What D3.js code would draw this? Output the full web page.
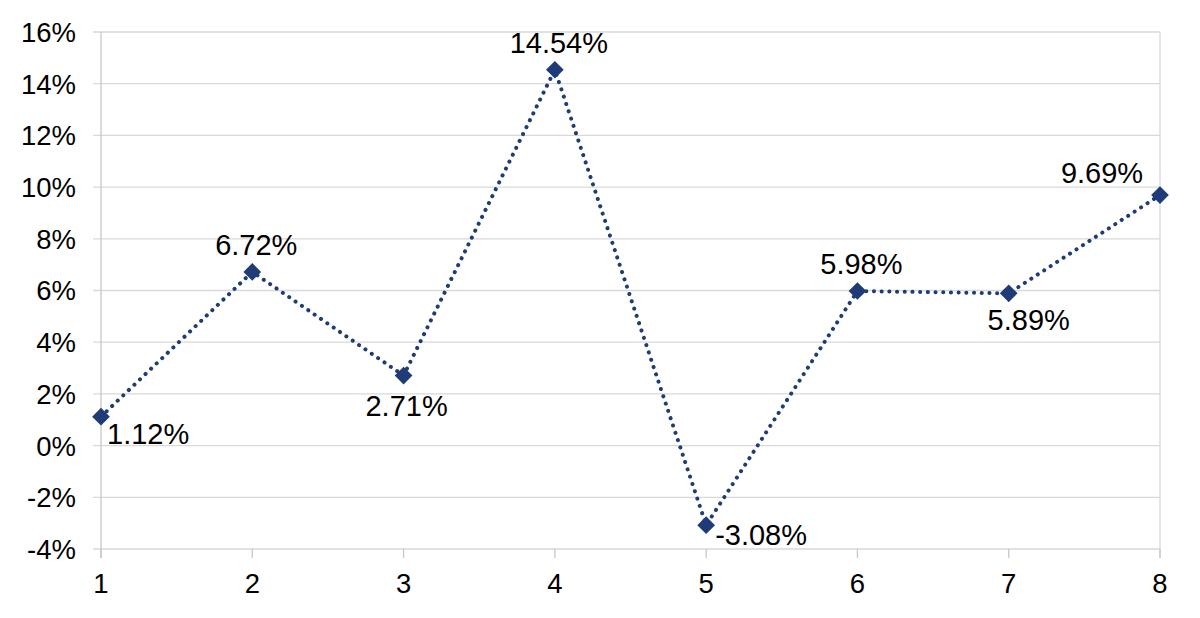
<!DOCTYPE html>
<html>
<head>
<meta charset="utf-8">
<script src="https://cdn.jsdelivr.net/npm/d3@7"></script>
<style>
  html, body { margin: 0; padding: 0; background: #fff; }
  svg { display: block; font-family: "Liberation Sans", Arial, sans-serif; }
</style>
</head>
<body>
<svg id="chart" width="1200" height="618"></svg>
<script>
// ---- data ----
const categories = [1, 2, 3, 4, 5, 6, 7, 8];
const values = [1.12, 6.72, 2.71, 14.54, -3.08, 5.98, 5.89, 9.69];
const labels = ["1.12%", "6.72%", "2.71%", "14.54%", "-3.08%", "5.98%", "5.89%", "9.69%"];
const yTicks = [-4, -2, 0, 2, 4, 6, 8, 10, 12, 14, 16];
const labelPlacement = ["belowRight", "above", "below", "above", "right", "above", "belowRight2", "aboveLeft"];

// ---- layout ----
const svg = d3.select("#chart");
const x = d3.scaleLinear().domain([1, 8]).range([101, 1160]);
const y = d3.scaleLinear().domain([-4, 16]).range([549, 32]);
const navy = "#1f3c78";
const grid = "#d9d9d9";
const axisCol = "#c8c8c8";

// gridlines
svg.append("g").selectAll("line").data(yTicks).join("line")
  .attr("x1", 93).attr("x2", x(8))
  .attr("y1", d => y(d)).attr("y2", d => y(d))
  .attr("stroke", grid).attr("stroke-width", 1.3);

// y axis line
svg.append("line").attr("x1", x(1)).attr("x2", x(1))
  .attr("y1", y(16)).attr("y2", 558)
  .attr("stroke", axisCol).attr("stroke-width", 1.3);
// right border
svg.append("line").attr("x1", x(8)).attr("x2", x(8))
  .attr("y1", y(16)).attr("y2", 558)
  .attr("stroke", grid).attr("stroke-width", 1.3);
// x ticks
svg.append("g").selectAll("line").data(categories).join("line")
  .attr("x1", d => x(d)).attr("x2", d => x(d))
  .attr("y1", y(-4)).attr("y2", 558)
  .attr("stroke", axisCol).attr("stroke-width", 1.3);

// y tick labels
svg.append("g").selectAll("text").data(yTicks).join("text")
  .attr("x", 76).attr("y", d => y(d)).attr("dy", "0.36em")
  .attr("text-anchor", "end").attr("font-size", 27.5).attr("fill", "#000")
  .text(d => d + "%");

// x tick labels
svg.append("g").selectAll("text").data(categories).join("text")
  .attr("x", d => x(d)).attr("y", 593)
  .attr("text-anchor", "middle").attr("font-size", 27.5).attr("fill", "#000")
  .text(d => d);

// line
const pts = categories.map((c, i) => ({ c, v: values[i], l: labels[i], p: labelPlacement[i] }));
svg.append("path").datum(pts)
  .attr("d", d3.line().x(d => x(d.c)).y(d => y(d.v)))
  .attr("fill", "none").attr("stroke", navy)
  .attr("stroke-width", 4).attr("stroke-linecap", "round")
  .attr("stroke-dasharray", "0.1 7.6");

// markers
svg.append("g").selectAll("path").data(pts).join("path")
  .attr("d", d3.symbol().type(d3.symbolDiamond2).size(200))
  .attr("transform", d => `translate(${x(d.c)},${y(d.v)})`)
  .attr("fill", navy);

// data labels
const off = {
  belowRight: { dx: 6, dy: 27, a: "start" },
  above: { dx: 4, dy: -17, a: "middle" },
  below: { dx: 3, dy: 40, a: "middle" },
  right: { dx: 9, dy: 20, a: "start" },
  belowRight2: { dx: 20, dy: 37, a: "middle" },
  aboveLeft: { dx: -58, dy: -12, a: "middle" }
};
svg.append("g").selectAll("text").data(pts).join("text")
  .attr("x", d => x(d.c) + off[d.p].dx)
  .attr("y", d => y(d.v) + off[d.p].dy)
  .attr("text-anchor", d => off[d.p].a)
  .attr("font-size", 29).attr("fill", "#000")
  .text(d => d.l);
</script>
</body>
</html>
